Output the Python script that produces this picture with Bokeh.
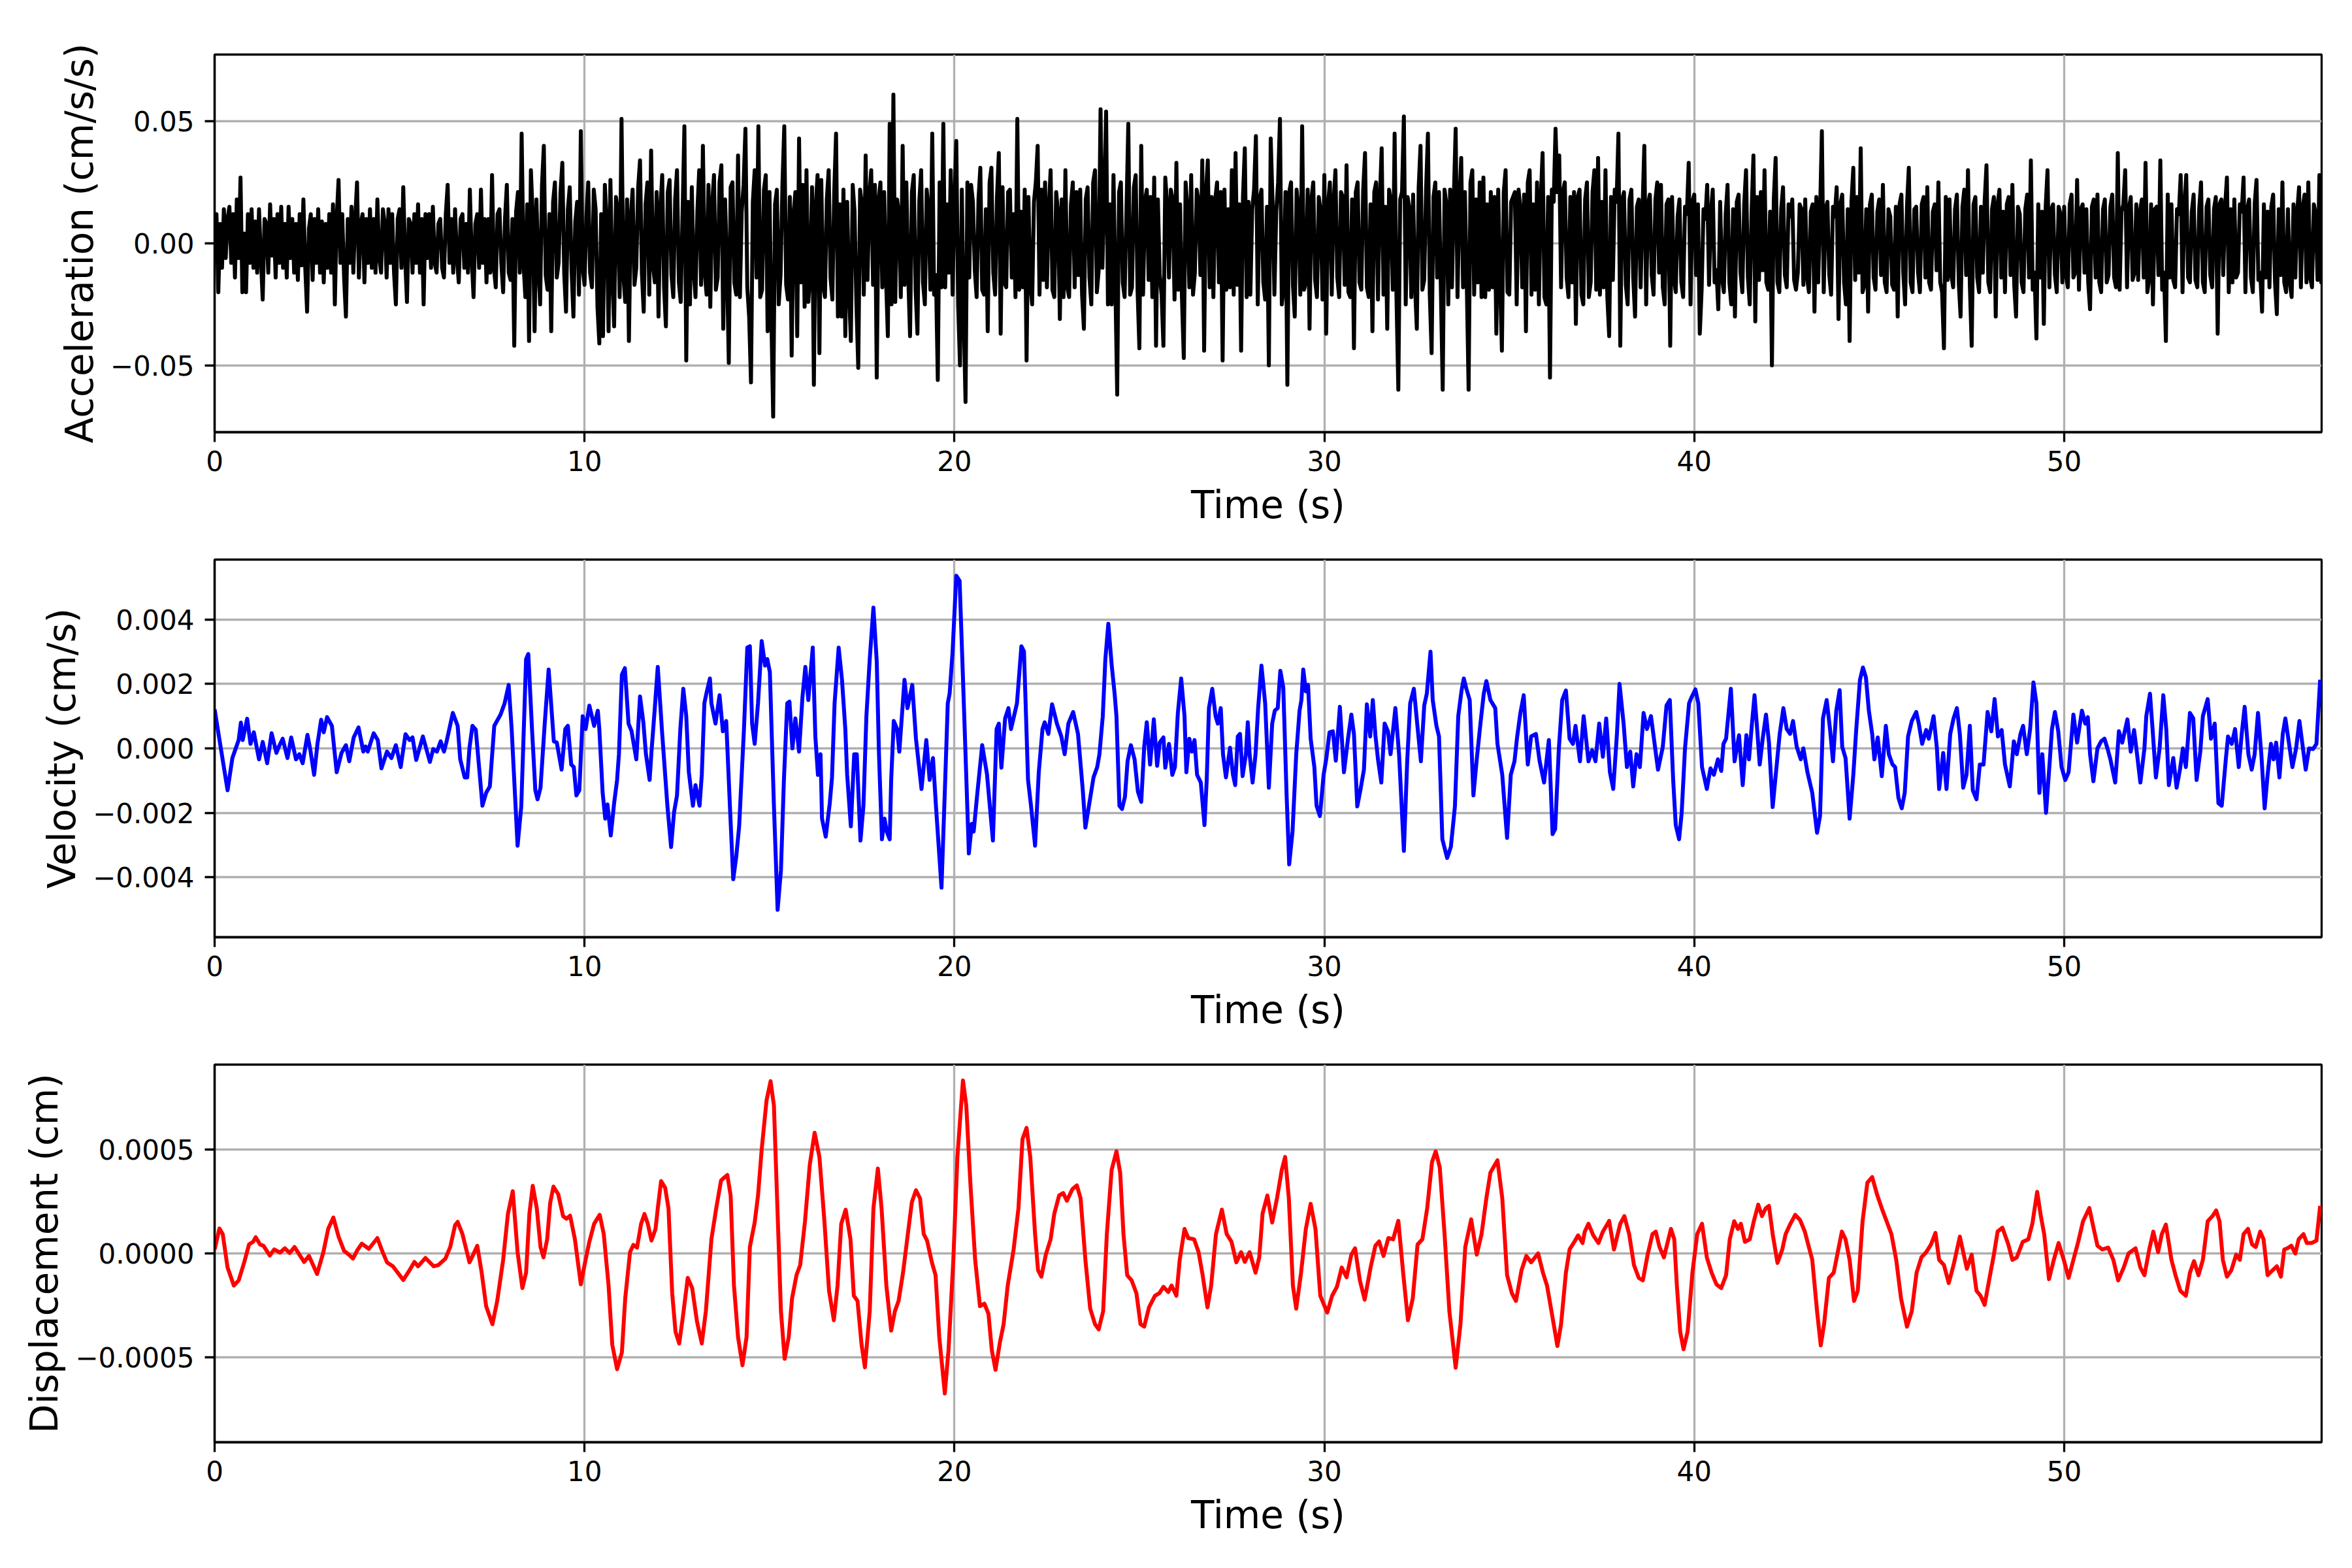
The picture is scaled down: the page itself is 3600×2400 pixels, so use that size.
from bokeh.models import Range1d, FixedTicker, CustomJSTickFormatter
from bokeh.plotting import figure
from bokeh.layouts import column
from bokeh.embed import file_html
from bokeh.resources import INLINE

acc_dt = 0.05
acc_e3 = [
    5, 12, -20, 8, -10, 14, -6, 10, 15, -8, 12, -14, 18, -6, 27, -20, 4, -20, 12, -8,
    14, -10, 9, -12, 14, -6, -23, 10, 8, -12, 16, -5, 10, -14, 12, -8, 15, -10, 8, -14,
    15, -6, 10, -12, 8, -15, 12, -9, 18, -10, -28, 6, 12, -15, 10, -8, 14, -12, 9, -16,
    8, -10, 12, -12, 16, -25, 10, 26, -8, 12, -14, -30, 10, -8, 15, -12, 10, 25, -14, 8,
    12, -16, 10, -8, 14, -10, 10, -12, 18, -6, -12, 14, 8, -14, 14, -8, 12, -12, -25, 10,
    14, -10, 23, -6, -24, 10, 8, -12, 12, -8, 16, -12, 10, -25, 12, -6, 12, -10, 15, -8,
    -12, 8, 10, -10, -14, 12, 24, -8, 10, -12, 14, -6, -16, 10, 12, -10, 8, -12, 22, -6,
    -22, 8, 12, -10, 22, -8, 10, -16, 10, -12, 28, -10, -18, 12, 14, -8, -20, 10, 24, -12,
    -15, 10, -42, 13, 21, -12, 45, -8, -22, 16, -40, 30, 11, -36, 18, -9, -25, 24, 40, -13,
    -19, 12, -36, 17, 25, -14, -8, 21, 33, -12, -28, 14, 23, -11, -30, 9, 17, -21, 46, -10,
    -17, 11, 25, -12, -18, 22, 14, -26, -41, 12, -38, 24, 9, -36, 26, -13, -34, 19, 13, -22,
    51, -13, -24, 18, -40, 11, 22, -17, -10, 23, 34, -12, -28, 16, 25, -21, 38, -9, -16, 21,
    -30, 14, 28, -18, -34, 21, 26, -13, -22, 18, 30, -16, -24, 12, 48, -48, 17, -25, 23, -11,
    -22, 13, 30, -17, 40, -12, -21, 24, -26, 16, 28, -19, -14, 25, 32, -35, 18, -9, -49, 23,
    25, -16, -21, 36, -22, 13, 24, 47, -18, -30, -57, 17, 30, -14, 48, -22, -19, 22, 28, -36,
    21, -30, -71, 16, 22, -25, -13, 24, 48, -17, -23, 19, -46, 12, 21, -38, 43, -16, 24, -26,
    30, -24, -12, 23, -58, 15, 28, -45, 26, -17, -22, 18, 30, -14, -23, 21, 45, -30, 16, -30,
    22, -38, 17, -19, -40, 24, 13, -25, -51, 22, 16, -21, 36, -15, 19, 30, -17, 24, -55, 18,
    25, -18, 21, -14, -38, 49, -25, 61, -24, 18, 12, -22, 40, -17, 25, -13, -38, 21, 28, -19,
    -37, 17, 30, -16, -25, 22, 14, -19, 45, -21, -13, -56, 25, -18, 49, -18, 16, -12, 30, -21,
    18, 42, -25, -50, 22, -30, -65, 25, -14, 24, 17, -11, -22, 18, 31, -19, -21, 14, -36, 25,
    31, -12, -21, 19, 37, -37, 23, -16, -18, 21, 22, -14, 12, -22, 51, -19, 13, -18, 22, -48,
    19, -16, -25, 17, 25, 40, -21, 22, -15, 25, -18, 14, 30, -19, -22, 21, 13, -31, 18, -22,
    30, -18, -22, 16, 25, -18, 21, -13, 22, -21, -35, 18, 23, -14, -25, 25, 30, -20, -11, 55,
    -10, 19, 54, -25, 16, -25, 28, -17, -62, 21, 25, -16, -22, 13, 49, -21, -18, 23, 28, -19,
    -43, 40, -21, 17, 22, -15, 19, -22, 27, -42, 18, -13, -21, -42, 27, 16, -14, 22, 18, -23,
    33, -19, 16, -22, -47, 25, 14, -18, 28, -21, -12, 22, 17, -13, 34, -44, 21, 34, -18, 19,
    -22, 18, 25, -16, 21, -48, 22, -19, 14, -18, 30, -21, 37, -17, 16, -44, 19, 39, -22, 17,
    -21, 14, 22, 44, -25, 18, 22, -16, -23, 15, -50, 43, 17, -21, 13, 25, 51, -25, -18, 21,
    -58, 21, 25, -17, -30, 22, 14, -21, 48, -19, -16, 22, -35, 18, 25, -15, -22, 19, 13, -23,
    28, -37, 16, 25, -21, 17, 30, -14, -22, 21, 19, -17, 32, -20, -22, 18, -43, 21, 25, -16,
    -19, 22, 37, -18, -22, 16, -36, 21, 25, -23, 18, 39, -21, 15, -35, 22, 17, -19, 45, -22,
    -60, 18, 21, 52, -25, 19, 14, -22, 20, -17, -35, 23, 40, -19, -15, 22, 45, -21, -45, 19,
    25, -14, 21, -19, -60, 22, 16, -25, 22, -18, 19, 47, -22, 17, 35, -18, 21, -16, -60, 25,
    30, -21, 18, -16, 25, -22, 27, -22, 16, -19, 21, -18, 19, -37, 22, -15, -44, 21, 30, -20,
    -21, 17, 19, 21, -25, 22, 14, -18, 20, -36, 25, 30, -21, 16, -19, 25, -25, 18, 37, -22,
    -25, 19, -55, 22, 17, 47, 21, 36, -18, 21, 25, -14, -22, 19, -16, 21, -33, 19, 22, -21,
    -25, 18, 25, -22, -16, 21, 30, -19, 35, -21, 17, -18, 30, -22, -38, 19, -15, 22, 17, 45,
    -42, 18, 21, -17, -25, 18, 22, -14, -30, 15, 18, -18, 13, 40, -25, 16, 20, -13, -21, 18,
    25, -12, 24, -18, -25, 16, 18, -42, 19, -14, -20, 11, 18, -16, -22, 15, 12, 33, -25, 17,
    20, -13, 16, -37, -19, 14, 10, 24, -17, 13, 22, -16, -11, -27, 17, -14, -20, 12, 24, -16,
    -25, 14, -30, 17, 20, -12, -20, 16, 30, -14, -25, 13, 36, -32, 19, -15, 21, -11, 30, -16,
    -19, 13, -50, 18, 35, -16, -20, 14, 23, -13, -18, 16, 11, 18, -15, -19, -12, 16, 14, -17,
    18, -14, -20, 13, 16, -28, 19, -16, 12, 46, -20, 14, 17, -13, -21, 15, 11, 23, -31, 16,
    20, -16, -25, 14, -40, 17, 31, -15, 19, -12, 39, -20, -17, 14, -28, 16, 20, -14, -19, 13,
    18, -13, 24, -16, -20, 14, 11, -17, -19, 15, -30, 16, 20, -12, -25, 15, 31, -16, -20, 14,
    15, -12, -20, 16, 19, -14, 23, -16, -19, 13, 16, -11, 25, -16, -20, -43, 19, -15, 18, -13,
    -18, 14, 20, -16, -30, 15, 22, -13, 30, -17, -42, 16, 19, -14, -20, 15, -12, 17, 32, -16,
    -20, 14, 19, -30, 16, 22, -14, 13, -20, 16, 19, -13, 24, -17, -30, 15, 12, -16, -20, 14,
    20, -14, 34, -19, -12, -39, 16, -14, 13, -33, 15, 30, -18, 14, 16, -13, -20, 15, 12, -16,
    15, -13, -18, 16, 20, -14, -12, 26, -19, 14, 16, -12, 14, -16, -27, 15, 18, -14, 20, -16,
    -20, 14, 18, -16, -13, 15, 20, -14, -18, 37, -19, 13, 16, 30, -18, 14, 19, -15, -12, 16,
    -15, 13, 18, -14, 33, -20, -14, 16, -25, 14, 15, -13, 34, -19, -12, -40, 20, -14, 16, -15,
    -18, 14, 12, 28, -20, 16, 28, -14, -16, 13, 20, -15, -18, 14, 25, -16, -20, 15, 18, -13,
    -18, 14, 19, -37, 16, 18, -13, 15, 27, -20, 14, -16, 18, -14, -12, 16, 13, 27, -20, 14,
    18, -14, -20, 16, 26, -15, -12, -28, 16, -14, 13, -18, 15, 20, -16, -29, 14, -13, 25, -16,
    -20, 14, -16, -22, 16, -14, 13, 23, -18, 15, 20, -16, 25, -14, -18, 16, 12, -15, 28, -16,
    10,
]

# velocity turning points: time (s) and value in units of 1e-4 cm/s
vel_t = [
    0.0, 0.35, 0.48, 0.65, 0.71, 0.76, 0.88, 0.97, 1.06, 1.2, 1.3, 1.42, 1.54, 1.67, 1.74, 1.84,
    1.97, 2.07, 2.2, 2.29, 2.38, 2.51, 2.59, 2.69, 2.78, 2.88, 2.95, 3.04, 3.17, 3.3, 3.43, 3.55,
    3.64, 3.76, 3.89, 4.02, 4.08, 4.14, 4.3, 4.41, 4.51, 4.66, 4.78, 4.9, 5.03, 5.16, 5.27, 5.35,
    5.45, 5.63, 5.82, 5.91, 6.01, 6.11, 6.2, 6.28, 6.44, 6.57, 6.64, 6.76, 6.83, 6.89, 6.97, 7.06,
    7.18, 7.24, 7.34, 7.44, 7.56, 7.73, 7.84, 7.95, 8.03, 8.19, 8.29, 8.42, 8.48, 8.58, 8.67, 8.73,
    8.81, 8.92, 9.03, 9.09, 9.17, 9.25, 9.38, 9.48, 9.55, 9.64, 9.71, 9.78, 9.86, 9.95, 10.03, 10.13,
    10.26, 10.36, 10.4, 10.49, 10.56, 10.62, 10.71, 10.8, 10.88, 10.93, 11.01, 11.09, 11.19, 11.27, 11.4, 11.5,
    11.59, 11.66, 11.76, 11.81, 11.9, 11.98, 12.1, 12.24, 12.34, 12.42, 12.5, 12.59, 12.67, 12.75, 12.82, 12.93,
    13.0, 13.11, 13.17, 13.24, 13.3, 13.39, 13.43, 13.54, 13.65, 13.74, 13.83, 13.93, 14.02, 14.1, 14.18, 14.31,
    14.4, 14.47, 14.53, 14.6, 14.69, 14.79, 14.88, 14.94, 15.01, 15.12, 15.22, 15.31, 15.39, 15.48, 15.54, 15.62,
    15.7, 15.8, 15.89, 15.97, 16.05, 16.17, 16.24, 16.31, 16.38, 16.42, 16.52, 16.63, 16.69, 16.76, 16.87, 16.96,
    17.05, 17.1, 17.2, 17.29, 17.36, 17.46, 17.54, 17.62, 17.71, 17.81, 17.9, 17.96, 18.04, 18.11, 18.17, 18.25,
    18.29, 18.36, 18.45, 18.51, 18.65, 18.73, 18.86, 18.96, 19.11, 19.24, 19.33, 19.42, 19.5, 19.65, 19.75, 19.82,
    19.87, 19.95, 20.05, 20.14, 20.23, 20.39, 20.47, 20.52, 20.62, 20.75, 20.88, 21.04, 21.14, 21.2, 21.27, 21.37,
    21.46, 21.53, 21.69, 21.81, 21.88, 21.99, 22.07, 22.18, 22.28, 22.38, 22.44, 22.54, 22.64, 22.77, 22.89, 22.98,
    23.08, 23.21, 23.34, 23.47, 23.54, 23.67, 23.76, 23.86, 23.92, 24.01, 24.08, 24.16, 24.25, 24.33, 24.38, 24.46,
    24.53, 24.61, 24.68, 24.77, 24.87, 24.96, 25.05, 25.13, 25.2, 25.29, 25.39, 25.48, 25.55, 25.65, 25.7, 25.8,
    25.89, 25.96, 26.04, 26.13, 26.22, 26.27, 26.35, 26.42, 26.49, 26.56, 26.66, 26.76, 26.82, 26.88, 26.97, 27.06,
    27.12, 27.2, 27.26, 27.34, 27.45, 27.53, 27.59, 27.66, 27.72, 27.79, 27.88, 27.93, 27.98, 28.06, 28.14, 28.21,
    28.3, 28.4, 28.5, 28.59, 28.66, 28.74, 28.81, 28.89, 28.98, 29.05, 29.14, 29.24, 29.33, 29.38, 29.43, 29.5,
    29.56, 29.63, 29.73, 29.79, 29.88, 29.98, 30.05, 30.14, 30.23, 30.31, 30.42, 30.53, 30.64, 30.73, 30.8, 30.89,
    30.98, 31.07, 31.15, 31.24, 31.31, 31.38, 31.45, 31.54, 31.63, 31.72, 31.79, 31.92, 32.02, 32.15, 32.24, 32.32,
    32.42, 32.51, 32.61, 32.7, 32.77, 32.87, 32.93, 33.03, 33.1, 33.19, 33.32, 33.42, 33.53, 33.62, 33.71, 33.77,
    33.84, 33.93, 34.03, 34.12, 34.22, 34.31, 34.38, 34.49, 34.62, 34.68, 34.81, 34.94, 35.04, 35.14, 35.21, 35.3,
    35.39, 35.5, 35.59, 35.72, 35.82, 35.94, 36.07, 36.17, 36.24, 36.34, 36.43, 36.53, 36.63, 36.72, 36.79, 36.91,
    37.01, 37.14, 37.24, 37.33, 37.43, 37.53, 37.62, 37.72, 37.81, 37.91, 37.98, 38.09, 38.18, 38.27, 38.35, 38.44,
    38.53, 38.63, 38.72, 38.83, 39.02, 39.15, 39.25, 39.34, 39.43, 39.5, 39.59, 39.66, 39.75, 39.86, 39.92, 40.03,
    40.11, 40.21, 40.34, 40.44, 40.53, 40.64, 40.73, 40.79, 40.86, 40.99, 41.09, 41.21, 41.31, 41.41, 41.48, 41.56,
    41.63, 41.7, 41.77, 41.85, 41.94, 42.02, 42.12, 42.21, 42.31, 42.41, 42.5, 42.59, 42.67, 42.77, 42.88, 42.95,
    43.06, 43.19, 43.32, 43.4, 43.48, 43.58, 43.67, 43.75, 43.84, 43.93, 44.0, 44.09, 44.2, 44.3, 44.38, 44.48,
    44.56, 44.64, 44.72, 44.81, 44.87, 44.96, 45.07, 45.18, 45.26, 45.36, 45.43, 45.52, 45.61, 45.69, 45.78, 45.88,
    46.0, 46.07, 46.16, 46.27, 46.34, 46.47, 46.56, 46.62, 46.73, 46.82, 46.92, 47.01, 47.1, 47.18, 47.27, 47.36,
    47.45, 47.53, 47.63, 47.72, 47.82, 47.93, 48.03, 48.12, 48.21, 48.31, 48.4, 48.53, 48.64, 48.72, 48.82, 48.89,
    48.99, 49.08, 49.17, 49.25, 49.33, 49.41, 49.51, 49.61, 49.67, 49.75, 49.84, 49.93, 50.03, 50.12, 50.25, 50.35,
    50.48, 50.57, 50.64, 50.7, 50.79, 50.9, 51.0, 51.09, 51.17, 51.25, 51.38, 51.48, 51.57, 51.71, 51.8, 51.89,
    51.97, 52.06, 52.17, 52.22, 52.32, 52.39, 52.48, 52.58, 52.68, 52.76, 52.83, 52.95, 53.04, 53.13, 53.21, 53.29,
    53.4, 53.49, 53.58, 53.68, 53.75, 53.88, 53.97, 54.07, 54.17, 54.26, 54.37, 54.43, 54.53, 54.62, 54.72, 54.8,
    54.88, 54.98, 55.07, 55.15, 55.24, 55.33, 55.42, 55.5, 55.59, 55.66, 55.73, 55.82, 55.91, 55.98, 56.08, 56.17,
    56.27, 56.36, 56.44, 56.53, 56.62, 56.73, 56.82, 56.92,
]
vel_e4 = [
    12.1, -13, -3, 2.6, 8, 2.6, 9.2, 1.4, 5, -3.4, 2, -4.6, 4.7, -1.4, 0.6, 3,
    -3, 3.4, -3.4, -1.8, -4.6, 4.2, -0.6, -8.2, 1.4, 8.9, 5, 9.7, 7, -7.4, -1.4, 1,
    -4, 3.4, 6.5, -1, 0.6, -1, 4.7, 2.6, -6.2, -1, -3, 1, -5.8, 4.4, 2.6, 3.4,
    -3.6, 3.7, -4.2, -0.2, -1, 2.2, -1, 2.6, 11, 7, -3.4, -9, -9, 0.2, 7, 5.8,
    -9.8, -17.8, -13.8, -11.8, 7, 10.5, 14, 19.7, 6, -30.2, -18, 27.7, 29.3, 6, -13, -15.8,
    -12.2, 7, 24.5, 15, 2.2, 1.8, -6.6, 6, 7, -5, -5.8, -14.6, -13, 10, 6, 13.3,
    7, 11.7, 6, -13.8, -21.8, -17.4, -27, -17, -9.8, -1.8, 22.9, 24.9, 7.7, 5.4, -3.4, 16.1,
    8.1, -1.8, -9.8, -1, 12.5, 25.3, 4.5, -17.8, -30.6, -19.8, -14.6, 6, 18.5, 10, -7.4, -17.8,
    -11.4, -17.8, -8.2, 14, 17.3, 21.7, 14, 7.7, 16.5, 5.3, 8.5, -17.8, -40.6, -33.8, -24.2, 6,
    31.3, 31.7, 7.7, 1.4, 14, 33.3, 25.7, 27.7, 23.7, -17.8, -50.1, -37.8, -9.8, 14, 14.5, 0,
    9.3, -1, 15.7, 25.3, 15, 31.3, 3.7, -8.2, -1.8, -21.8, -27.4, -17, -9, 14, 31.3, 21.3,
    6, -8.2, -24.2, -1.8, -1.8, -28.6, -17.8, 10, 27.7, 43.7, 26.9, -1.8, -28.2, -21.8, -25.8, -28.2,
    -9.8, 8.5, 6, -1, 21.3, 12.5, 19.7, 3, -12.6, 2.6, -9.8, -3, -17.8, -43.2, -10, 14,
    17, 30, 53.6, 52, 22, -32.6, -23.4, -25.8, -13.8, 1, -8, -28.6, 6, 7.7, -6, 9.3,
    12.5, 6, 14, 31.7, 30.1, -9.8, -17.8, -30.2, -7.4, 6, 8.1, 4.5, 13.7, 7.7, 3.7, -1.8,
    7.7, 11.3, 4.5, -13, -24.6, -15.4, -9, -5.8, -1.8, 10, 27.7, 38.7, 26, 17, 10, -17.8,
    -18.8, -15, -4, 1, -3.4, -13.4, -16.6, 0.5, 8.1, -5, 9, -5.4, 1.8, 3.4, -6, 1.4,
    -8.2, -5.8, 11, 21.7, 10, -7.4, 3, -1, 2.6, -8.2, -10.6, -23.8, -9.8, 12.5, 18.5, 10,
    7.7, 12.5, -1.8, -9, 0.2, -8.2, -11.4, 3.7, 4.5, -8.6, -1.8, 8.1, -1.8, -10.6, -1.8, 12.5,
    25.7, 14, -12.2, 7.7, 11.7, 12.5, 24.1, 18.9, -14.6, -36, -25.8, -1.8, 11.7, 15, 24.5, 17.7,
    19.7, 3, -5.8, -17.8, -21, -8.2, -3.4, 5, 5.3, -3.8, 12.9, -7.4, 3, 10.5, 4.5, -18,
    -12.6, -6.6, 13.7, 3.7, 15, 4.1, -3.4, -10.6, 7.7, 5.3, -1.8, 12.5, -1.8, -31.8, -4, 14,
    18.5, 7.7, -4, 13.3, 17, 30, 15, 7, 3.7, -28.2, -34, -30.6, -18, 10, 18, 21.7,
    18.5, 15, -14.6, -3.4, 7.7, 17, 20.9, 15, 12.5, 1.4, -8.2, -27.8, -8.2, -4, 3.4, 11,
    16.5, -5, 3.7, 4.5, -4, -10.6, 2.6, -26.6, -25, 0, 15, 18, 3, 1.4, 7, -4,
    10, -4, -0.6, -4, 7.7, -2.6, 9.3, -7.4, -12.6, 4.5, 20, 7.7, -5.8, -1, -11.8, -1.8,
    -5.8, 11, 6, 10, -6.6, 0.5, 13.3, 15, -9.8, -23.8, -28.2, -20, 0, 14, 15.7, 18.3,
    14, -5.8, -12.6, -6.2, -8.2, -3.4, -7, 1.4, 3, 18.5, -4, 4.1, -11.4, 4.1, -3.4, 7.7,
    16.5, 6, -5, 3, 10.5, 1.8, -18.2, -7.4, 4.5, 12.5, 6, 4.5, 8.5, 0.5, -3.4, 0,
    -7.4, -13.8, -26.2, -21, 9.3, 15, 6, -4, 11.7, 18.1, 0.5, -3, -21.8, -8.2, 6, 21.3,
    25.1, 22.1, 11.7, 4.5, -3.4, 3.4, -8.6, 7, -1.8, -5, -5.8, -15.4, -18.6, -13.8, 3.7, 8.5,
    11.3, 7.7, 1.4, 5.7, 3, 10, 0, -12.6, -1.4, -12.6, 4.5, 9.3, 12.5, 4.5, -12.2, -8.2,
    7, -13, -15.8, -5, -5, 11.3, 5.3, 15.3, 3.7, 5.7, -5, -11.8, 2.2, -1.8, 4.5, 7,
    -1.8, 6, 20.5, 14, -13.8, -1.8, -20, -4, 6, 11.3, 5.3, -5.8, -9.8, -7.4, 10.5, 1.8,
    11.7, 7.7, 9.7, -1.8, -10.2, 0, 2.2, 3, 0, -3.4, -10.6, 5.3, 1.8, 9, -1, 5.7,
    -1.8, -10.6, 0, 10, 17, 6, -9, 0, 16.5, 6, -11.4, -3, -12.2, -6.6, 0, -5.8,
    11, 9.3, -9.8, -1, 10, 15.3, 3, 7.7, -17, -17.8, -3.4, 3.7, 1.4, 6, -5.8, 4.5,
    12.9, -1.8, -6.6, -1.8, 11, -1.8, -18.6, -8.2, 1.4, -3.4, 1.8, -9, 4.5, 9.3, 1.4, -5.8,
    0, 8.5, 1.4, -6.6, 0, -0.2, 1.4, 21.3,
]

# displacement turning points: time (s) and value in units of 1e-5 cm
disp_t = [
    0.0, 0.13, 0.22, 0.35, 0.52, 0.65, 0.8, 0.93, 1.04, 1.11, 1.23, 1.32, 1.49, 1.61, 1.77, 1.9,
    2.03, 2.16, 2.42, 2.55, 2.77, 2.94, 3.07, 3.21, 3.35, 3.5, 3.63, 3.74, 3.87, 3.98, 4.17, 4.4,
    4.53, 4.66, 4.82, 5.1, 5.27, 5.4, 5.5, 5.7, 5.92, 6.05, 6.24, 6.37, 6.5, 6.57, 6.7, 6.89,
    6.99, 7.1, 7.22, 7.34, 7.51, 7.64, 7.8, 7.93, 8.06, 8.19, 8.32, 8.42, 8.51, 8.6, 8.71, 8.81,
    8.89, 8.99, 9.07, 9.16, 9.29, 9.42, 9.51, 9.61, 9.74, 9.9, 10.0, 10.13, 10.26, 10.41, 10.52, 10.65,
    10.75, 10.88, 11.01, 11.1, 11.23, 11.32, 11.42, 11.53, 11.62, 11.71, 11.81, 11.92, 11.98, 12.07, 12.18, 12.27,
    12.37, 12.46, 12.56, 12.66, 12.79, 12.91, 13.04, 13.17, 13.28, 13.43, 13.56, 13.69, 13.78, 13.86, 13.95, 14.04,
    14.15, 14.27, 14.38, 14.47, 14.6, 14.69, 14.79, 14.92, 15.03, 15.12, 15.21, 15.31, 15.41, 15.52, 15.61, 15.73,
    15.83, 15.96, 16.09, 16.22, 16.35, 16.48, 16.61, 16.74, 16.84, 16.94, 17.06, 17.19, 17.28, 17.38, 17.49, 17.58,
    17.71, 17.81, 17.93, 18.03, 18.16, 18.29, 18.39, 18.49, 18.61, 18.74, 18.85, 18.96, 19.07, 19.17, 19.26, 19.39,
    19.49, 19.59, 19.74, 19.84, 19.97, 20.08, 20.23, 20.32, 20.43, 20.56, 20.69, 20.81, 20.92, 21.01, 21.11, 21.23,
    21.33, 21.44, 21.6, 21.73, 21.84, 21.95, 22.05, 22.18, 22.26, 22.35, 22.47, 22.6, 22.7, 22.83, 22.94, 23.04,
    23.19, 23.31, 23.41, 23.54, 23.67, 23.8, 23.9, 24.02, 24.12, 24.25, 24.38, 24.48, 24.57, 24.67, 24.79, 24.92,
    25.03, 25.13, 25.26, 25.42, 25.54, 25.65, 25.78, 25.87, 26.0, 26.09, 26.22, 26.32, 26.48, 26.6, 26.71, 26.84,
    26.94, 27.07, 27.23, 27.36, 27.49, 27.62, 27.75, 27.85, 27.98, 28.14, 28.24, 28.33, 28.46, 28.59, 28.72, 28.85,
    28.94, 29.04, 29.15, 29.24, 29.37, 29.5, 29.63, 29.76, 29.89, 30.08, 30.21, 30.34, 30.47, 30.6, 30.73, 30.83,
    30.96, 31.09, 31.25, 31.38, 31.48, 31.6, 31.73, 31.86, 32.0, 32.13, 32.26, 32.39, 32.52, 32.65, 32.78, 32.91,
    33.01, 33.12, 33.25, 33.38, 33.55, 33.68, 33.81, 33.97, 34.12, 34.25, 34.38, 34.49, 34.68, 34.81, 34.94, 35.07,
    35.18, 35.33, 35.46, 35.59, 35.78, 35.91, 36.02, 36.2, 36.3, 36.4, 36.53, 36.63, 36.76, 36.86, 36.98, 37.04,
    37.14, 37.27, 37.41, 37.53, 37.7, 37.83, 38.0, 38.11, 38.24, 38.37, 38.5, 38.61, 38.74, 38.87, 38.96, 39.06,
    39.18, 39.37, 39.46, 39.53, 39.62, 39.71, 39.82, 39.95, 40.08, 40.21, 40.34, 40.47, 40.6, 40.73, 40.86, 40.96,
    41.08, 41.18, 41.26, 41.37, 41.5, 41.61, 41.73, 41.83, 41.93, 42.02, 42.12, 42.25, 42.38, 42.47, 42.6, 42.73,
    42.86, 42.99, 43.08, 43.19, 43.32, 43.42, 43.51, 43.64, 43.77, 43.88, 43.99, 44.09, 44.2, 44.32, 44.42, 44.55,
    44.68, 44.81, 44.94, 45.07, 45.2, 45.33, 45.46, 45.59, 45.75, 45.88, 46.01, 46.14, 46.27, 46.4, 46.52, 46.62,
    46.75, 46.88, 47.01, 47.18, 47.37, 47.5, 47.63, 47.74, 47.85, 47.97, 48.1, 48.2, 48.33, 48.49, 48.6, 48.72,
    48.88, 49.03, 49.14, 49.27, 49.37, 49.46, 49.59, 49.72, 49.85, 49.99, 50.12, 50.25, 50.38, 50.51, 50.68, 50.77,
    50.9, 51.03, 51.19, 51.33, 51.46, 51.61, 51.74, 51.93, 52.06, 52.17, 52.3, 52.41, 52.54, 52.64, 52.75, 52.9,
    53.01, 53.14, 53.29, 53.4, 53.51, 53.63, 53.75, 53.88, 54.01, 54.11, 54.2, 54.29, 54.4, 54.52, 54.65, 54.75,
    54.85, 54.97, 55.08, 55.18, 55.3, 55.39, 55.5, 55.6, 55.75, 55.86, 55.95, 56.04, 56.14, 56.25, 56.34, 56.47,
    56.56, 56.69, 56.82, 56.92,
]
disp_e5 = [
    1.9, 12.0, 9.3, -6.8, -15.5, -13.0, -4.3, 4.3, 5.6, 7.8, 4.3, 3.7, -1.0, 1.9, 0.4, 2.5,
    0.2, 3.1, -4.1, -1.2, -9.9, 0.6, 11.8, 17.3, 8.1, 1.2, -0.6, -2.5, 1.9, 4.7, 2.2, 7.4,
    1.2, -4.3, -6.2, -12.8, -8.1, -4.1, -6.2, -2.2, -6.2, -5.6, -2.5, 3.1, 13.6, 15.2, 9.3, -4.3,
    -0.6, 3.7, -9.3, -25.4, -34.1, -22.9, -3.1, 19.2, 30.0, 0.6, -16.7, -9.3, 19.2, 32.6, 21.7, 3.1,
    -1.9, 6.8, 24.2, 32.2, 28.5, 18.0, 16.7, 18.2, 6.8, -14.9, -5.6, 5.6, 14.3, 18.6, 9.3, -15.5,
    -44.0, -55.8, -47.7, -21.7, 0.6, 4.1, 2.8, 14.3, 19.0, 14.3, 6.2, 11.8, 21.7, 34.9, 31.6, 21.7,
    -19.2, -37.8, -43.4, -30.4, -11.8, -16.7, -32.8, -43.4, -27.9, 6.8, 21.7, 35.1, 36.6, 37.8, 27.9, -15.5,
    -40.3, -53.9, -40.3, 3.1, 14.9, 27.9, 50.2, 73.7, 83.0, 71.3, 24.2, -27.9, -50.8, -40.3, -21.7, -10.5,
    -5.6, 15.5, 42.8, 58.2, 46.5, 16.7, -18.0, -32.2, -15.5, 14.3, 21.1, 6.8, -20.4, -22.9, -44.0, -54.9,
    -27.9, 21.7, 40.9, 21.7, -15.5, -37.2, -27.9, -22.9, -9.3, 9.3, 24.8, 30.4, 26.6, 9.3, 6.2, -4.3,
    -10.5, -40.3, -67.5, -46.5, -3.1, 46.5, 83.4, 71.3, 34.1, -3.1, -25.4, -24.2, -29.1, -46.5, -56.1, -42.8,
    -34.1, -15.5, 1.9, 21.7, 55.1, 60.5, 46.5, 9.3, -8.1, -11.2, -0.6, 6.8, 19.2, 27.9, 29.1, 25.4,
    31.0, 32.8, 26.6, -3.1, -26.6, -34.1, -36.6, -27.9, 9.3, 40.3, 49.2, 39.0, 9.3, -10.5, -13.0, -19.2,
    -34.1, -35.3, -26.0, -20.4, -19.2, -16.1, -18.6, -15.5, -20.4, -3.1, 11.8, 7.4, 6.8, 0.6, -10.5, -26.0,
    -15.5, 9.3, 21.1, 9.3, 5.6, -4.3, 0.6, -4.1, 0.6, -9.3, -1.9, 19.2, 27.9, 14.9, 26.6, 40.3,
    46.5, 26.6, -15.5, -26.6, -9.3, 11.8, 23.9, 11.8, -20.4, -28.5, -20.4, -16.1, -6.8, -11.5, -0.6, 2.5,
    -13.0, -22.3, -6.8, 3.7, 5.8, -1.2, 7.4, 6.8, 15.7, -9.3, -32.2, -21.7, 4.3, 6.8, 21.7, 44.0,
    49.2, 41.5, 9.3, -27.9, -55.1, -34.1, 3.1, 16.4, -0.6, 9.3, 26.6, 39.0, 44.9, 26.6, -10.5, -19.2,
    -22.9, -8.1, -1.2, -4.3, 0.0, -9.3, -15.5, -34.1, -44.6, -34.1, -9.3, 1.9, 5.6, 8.7, 5.0, 10.5,
    14.3, 8.7, 5.0, 10.5, 15.7, 1.9, 14.3, 18.0, 9.3, -5.6, -11.8, -13.0, -0.6, 9.3, 10.5, 3.1,
    -1.9, 11.8, 6.8, -15.5, -37.8, -46.2, -37.8, -9.3, 9.3, 14.3, -1.9, -9.3, -14.9, -16.7, -10.5, 6.8,
    15.5, 11.8, 14.3, 5.6, 6.8, 15.5, 23.5, 18.0, 21.7, 22.9, 9.3, -4.6, 1.9, 9.3, 14.3, 18.6,
    16.1, 10.5, 4.3, -3.1, -27.9, -44.3, -34.1, -11.8, -9.3, 0.6, 10.5, 6.8, -3.1, -22.9, -18.0, 15.5,
    34.1, 36.8, 28.5, 21.7, 15.5, 9.3, -3.1, -21.7, -35.3, -27.9, -9.3, -1.9, 0.6, 4.3, 9.9, -3.1,
    -5.6, -14.3, -5.6, 8.1, -7.4, -0.6, -18.0, -20.4, -24.8, -13.0, -0.6, 10.5, 12.4, 4.3, -3.1, -1.9,
    5.6, 6.8, 14.3, 29.7, 18.0, 9.3, -12.4, -3.1, 5.0, -3.1, -11.8, -3.1, 5.6, 15.5, 21.9, 14.3,
    3.7, 1.9, 2.8, -3.1, -13.0, -6.8, 0.0, 2.5, -6.8, -10.5, 1.9, 10.5, 0.6, 9.3, 13.9, -3.1,
    -10.5, -18.0, -20.4, -9.3, -3.7, -10.5, -3.1, 15.5, 18.0, 20.7, 15.5, -3.1, -11.2, -8.1, -0.6, -3.1,
    9.3, 11.8, 4.3, 3.1, 10.5, 6.8, -10.5, -8.7, -6.2, -11.2, 1.9, 2.5, 3.7, 0.0, 6.8, 9.3,
    5.0, 5.0, 6.2, 22.9,
]

time_ticks = [0, 10, 20, 30, 40, 50]
acc_ticks = [-0.05, 0.0, 0.05]
vel_ticks = [-0.004, -0.002, 0.0, 0.002, 0.004]
disp_ticks = [-0.0005, 0.0, 0.0005]

acc = [a * 1e-3 for a in acc_e3]
acc_time = [i * acc_dt for i in range(len(acc))]
vel = [v * 1e-4 for v in vel_e4]
disp = [d * 1e-5 for d in disp_e5]

x_range = Range1d(0, 56.96)
FONT = "DejaVu Sans"


def make_panel(xs, ys, color, ylabel, yticks, ylim, digits, top):
    p = figure(width=3592, height=top + 578 + 175, x_range=x_range,
               y_range=Range1d(-ylim, ylim), output_backend="svg",
               toolbar_location=None, min_border_left=328, min_border_right=39,
               min_border_top=top, min_border_bottom=175)
    p.line(xs, ys, line_color=color, line_width=6, line_join="round")

    p.outline_line_color = "black"
    p.outline_line_width = 3.3
    p.background_fill_color = "white"
    p.border_fill_color = "white"

    p.xaxis.ticker = FixedTicker(ticks=time_ticks)
    p.yaxis.ticker = FixedTicker(ticks=yticks)
    p.yaxis.formatter = CustomJSTickFormatter(
        code="return (tick < -1e-12 ? '\\u2212' : '') + Math.abs(tick).toFixed(%d);" % digits)
    p.xaxis.axis_label = "Time (s)"
    p.yaxis.axis_label = ylabel

    for ax in (p.xaxis, p.yaxis):
        ax.axis_line_width = 3.3
        ax.axis_line_color = "black"
        ax.major_tick_out = 15
        ax.major_tick_in = 0
        ax.major_tick_line_width = 3.3
        ax.minor_tick_line_color = None
        ax.major_label_text_font = FONT
        ax.major_label_text_font_size = "42px"
        ax.major_label_text_color = "black"
        ax.axis_label_text_font = FONT
        ax.axis_label_text_font_size = "58px"
        ax.axis_label_text_font_style = "normal"
        ax.axis_label_text_color = "black"
    p.xaxis.major_label_standoff = 13
    p.yaxis.major_label_standoff = 16
    p.xaxis.axis_label_standoff = 15
    p.yaxis.axis_label_standoff = 10

    p.grid.grid_line_color = "#b0b0b0"
    p.grid.grid_line_width = 3.3
    return p


p1 = make_panel(acc_time, acc, "#000000", "Acceleration (cm/s/s)", acc_ticks, 0.0774, 2, 83)
p2 = make_panel(vel_t, vel, "#0000ff", "Velocity (cm/s)", vel_ticks, 0.00586, 3, 20)
p3 = make_panel(disp_t, disp, "#ff0000", "Displacement (cm)", disp_ticks, 0.00091, 4, 20)

layout = column(p1, p2, p3)
open("out.html", "w").write(file_html(layout, INLINE))
